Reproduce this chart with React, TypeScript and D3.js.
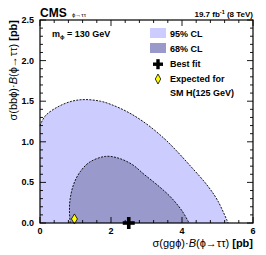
import React from 'react';
import * as d3 from 'd3';

// contour points: [sigma(gg), sigma(bb)] in pb
const cl95 = [
  [0, 1.2], [0.15, 1.32], [0.5, 1.43], [0.9, 1.5], [1.27, 1.52], [1.7, 1.5],
  [2.0, 1.46], [2.5, 1.36], [3.0, 1.22], [3.5, 1.04], [3.8, 0.91], [4.2, 0.72],
  [4.7, 0.47], [5.0, 0.28], [5.3, 0.0],
];
const cl68 = [
  [0.85, 0.0], [0.83, 0.15], [0.85, 0.3], [0.95, 0.48], [1.13, 0.63], [1.4, 0.75],
  [1.84, 0.82], [2.2, 0.8], [2.6, 0.72], [2.93, 0.6], [3.3, 0.47], [3.68, 0.32],
  [4.0, 0.15], [4.2, 0.0],
];
const bestFit = [2.5, 0.0];
const expectedSM = [0.97, 0.05];

const xTicks = [0, 2, 4, 6];
const yTicks = [0, 0.5, 1, 1.5, 2, 2.5];

const legendItems = ['95% CL', '68% CL', 'Best fit', 'Expected for', 'SM H(125 GeV)'];

const font = 'Liberation Sans, Arial, Helvetica, sans-serif';

const App = () => {
  const W = 266, H = 255;
  const left = 40, right = 253, top = 20, bottom = 223;

  const x = d3.scaleLinear().domain([0, 6]).range([left, right]);
  const y = d3.scaleLinear().domain([0, 2.5]).range([bottom, top]);

  const line = d3.line<number[]>()
    .x(d => x(d[0]))
    .y(d => y(d[1]))
    .curve(d3.curveCatmullRom.alpha(0.5));

  const path95 = line(cl95) as string;
  const path68 = line(cl68) as string;
  const fill95 = `${path95}L${x(0)},${y(0)}Z`;
  const fill68 = `${path68}Z`;

  const xMinor = d3.range(0, 6.001, 0.4);
  const yMinor = d3.range(0, 2.501, 0.1);

  const bx = x(bestFit[0]), by = y(bestFit[1]);
  const ex = x(expectedSM[0]), ey = y(expectedSM[1]);

  return (
    <svg width={W} height={H} style={{ position: 'absolute', left: 0, top: 0 }} fontFamily={font}>
      <rect x={0} y={0} width={W} height={H} fill="white" />

      {/* contours */}
      <path d={fill95} fill="#ccccff" />
      <path d={fill68} fill="#9999cc" />
      <path d={path95} fill="none" stroke="black" strokeWidth={0.9} strokeDasharray="2,1.3" />
      <path d={path68} fill="none" stroke="black" strokeWidth={0.9} strokeDasharray="2,1.3" />

      {/* markers */}
      <g fill="black">
        <rect x={bx - 6} y={by - 1.8} width={12} height={3.6} />
        <rect x={bx - 1.8} y={by - 6} width={3.6} height={12} />
      </g>
      <path d={`M${ex},${ey - 5}L${ex + 3},${ey}L${ex},${ey + 5}L${ex - 3},${ey}Z`}
        fill="#ffff00" stroke="black" strokeWidth={0.8} />

      {/* frame */}
      <rect x={left} y={top} width={right - left} height={bottom - top}
        fill="none" stroke="black" strokeWidth={1.2} />

      {/* ticks */}
      <g stroke="black" strokeWidth={0.9}>
        {xMinor.map((v, i) => {
          const major = xTicks.some(t => Math.abs(t - v) < 1e-6);
          const len = major ? 6 : 3;
          return (
            <g key={'xt' + i}>
              <line x1={x(v)} x2={x(v)} y1={bottom} y2={bottom - len} />
              <line x1={x(v)} x2={x(v)} y1={top} y2={top + len} />
            </g>
          );
        })}
        {yMinor.map((v, i) => {
          const major = yTicks.some(t => Math.abs(t - v) < 1e-6);
          const len = major ? 6 : 3;
          return (
            <g key={'yt' + i}>
              <line x1={left} x2={left + len} y1={y(v)} y2={y(v)} />
              <line x1={right} x2={right - len} y1={y(v)} y2={y(v)} />
            </g>
          );
        })}
      </g>

      {/* tick labels */}
      <g fontSize={9} fontWeight="bold" fill="black">
        {xTicks.map(t => (
          <text key={'xl' + t} x={x(t)} y={bottom + 11} textAnchor="middle">{t}</text>
        ))}
        {yTicks.map(t => (
          <text key={'yl' + t} x={left - 6} y={y(t) + 3} textAnchor="end">{t.toFixed(1)}</text>
        ))}
      </g>

      {/* axis titles */}
      <text x={right} y={247} textAnchor="end" fontSize={11}>
        σ(ggϕ)·<tspan fontStyle="italic">B</tspan>(ϕ→ττ) <tspan fontWeight="bold">[pb]</tspan>
      </text>
      <text transform={`translate(17,${top}) rotate(-90)`} textAnchor="end" fontSize={11}>
        σ(bbϕ)·<tspan fontStyle="italic">B</tspan>(ϕ→ττ) <tspan fontWeight="bold">[pb]</tspan>
      </text>

      {/* header */}
      <text x={left} y={17} fontSize={12} fontWeight="bold">CMS</text>
      <text x={72} y={17} fontSize={6}>ϕ→ττ</text>
      <text x={right} y={17} textAnchor="end" fontSize={8} fontWeight="bold">
        19.7 fb<tspan dy={-3} fontSize={5.5}>-1</tspan><tspan dy={3}> (8 TeV)</tspan>
      </text>

      <text x={52} y={37} fontSize={9} fontWeight="bold">
        m<tspan dy={2} fontSize={6}>ϕ</tspan><tspan dy={-2}> = 130 GeV</tspan>
      </text>

      {/* legend */}
      <g fontSize={9} fontWeight="bold">
        <rect x={150} y={28} width={16} height={10} fill="#ccccff" />
        <text x={170} y={37}>{legendItems[0]}</text>
        <rect x={150} y={43} width={16} height={10} fill="#9999cc" />
        <text x={170} y={52}>{legendItems[1]}</text>
        <g fill="black">
          <rect x={153} y={62.5} width={10} height={3.4} />
          <rect x={156.3} y={59.2} width={3.4} height={10} />
        </g>
        <text x={170} y={67}>{legendItems[2]}</text>
        <path d={`M158,74L160.7,79L158,84L155.3,79Z`} fill="#ffff00" stroke="black" strokeWidth={0.8} />
        <text x={170} y={82}>{legendItems[3]}</text>
        <text x={170} y={96}>{legendItems[4]}</text>
      </g>
    </svg>
  );
};

export default App;
